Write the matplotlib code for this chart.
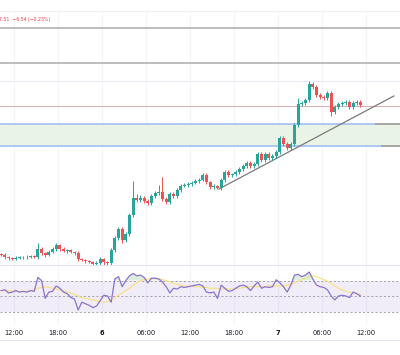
import matplotlib.pyplot as plt
from matplotlib.lines import Line2D

# 30-minute candles, closes (hours are relative to day 6 00:00)
closes = [
    2809.75, 2809.25, 2809.00, 2808.75, 2809.00, 2809.25, 2809.13, 2809.25, 2809.38, 2809.25,
    2811.25, 2810.25, 2809.75, 2810.50, 2811.25, 2812.25, 2811.25, 2810.75, 2811.00, 2810.50,
    2810.25, 2808.75, 2808.50, 2808.25, 2808.00, 2807.50, 2807.75, 2808.75, 2808.00, 2807.75,
    2811.00, 2814.00, 2816.25, 2813.50, 2815.00, 2819.75, 2824.00, 2823.50, 2824.00, 2823.25,
    2822.75, 2824.50, 2825.25, 2825.50, 2823.75, 2823.00, 2825.00, 2824.50, 2826.00, 2827.00,
    2827.25, 2827.50, 2827.75, 2828.25, 2828.50, 2829.75, 2828.00, 2826.75, 2827.00, 2826.50,
    2828.50, 2830.50, 2829.75, 2829.90, 2830.50, 2831.25, 2832.00, 2832.75, 2832.00, 2832.50,
    2835.00, 2833.50, 2835.00, 2834.00, 2834.50, 2835.50, 2839.00, 2837.50, 2836.50, 2837.50,
    2842.25, 2847.50, 2847.75, 2848.50, 2852.50, 2851.75, 2849.75, 2849.25, 2849.00, 2850.25,
    2845.50, 2846.75, 2847.50, 2847.75, 2848.00, 2846.75, 2847.75, 2848.00, 2847.25,
]
first_open = 2810.0
wick_up = [
    0.3, 0.4, 0.3, 0.3, 0.4, 0.3, 0.3, 0.4, 0.3, 0.3,
    1.5, 0.4, 0.3, 0.5, 0.4, 0.5, 0.3, 0.4, 0.3, 0.3,
    0.3, 0.4, 0.3, 0.3, 0.3, 0.3, 0.4, 0.5, 0.3, 0.3,
    0.5, 0.6, 0.5, 0.4, 0.5, 0.6, 4.2, 1.0, 0.8, 0.5,
    0.4, 0.5, 0.6, 1.7, 3.7, 0.4, 0.5, 0.4, 0.5, 0.4,
    0.4, 0.5, 0.4, 0.4, 0.5, 0.5, 0.4, 0.3, 0.4, 0.3,
    0.5, 0.6, 0.4, 0.4, 0.5, 0.4, 0.5, 0.4, 0.4, 0.5,
    0.6, 0.4, 0.5, 0.4, 0.4, 0.5, 0.6, 0.4, 0.4, 0.5,
    0.6, 1.5, 0.5, 0.6, 0.8, 0.5, 0.5, 0.4, 0.5, 0.6,
    0.5, 0.5, 0.5, 0.4, 0.5, 0.4, 0.5, 0.4, 0.4,
]
wick_dn = [
    0.3, 0.4, 0.4, 0.3, 0.3, 0.3, 0.4, 0.3, 0.3, 0.3,
    0.4, 0.4, 0.5, 0.3, 0.3, 0.4, 0.4, 0.3, 0.4, 0.3,
    0.4, 0.4, 0.3, 0.4, 0.3, 0.4, 0.3, 0.4, 0.8, 0.4,
    0.4, 0.5, 0.5, 0.8, 0.5, 0.5, 0.5, 0.6, 0.5, 0.5,
    0.6, 0.5, 0.4, 0.4, 0.6, 0.5, 0.4, 0.5, 0.4, 0.4,
    0.3, 0.4, 0.4, 0.3, 0.4, 0.3, 0.4, 0.5, 0.4, 0.3,
    0.4, 0.4, 0.5, 0.4, 0.4, 0.4, 0.4, 0.4, 0.5, 0.4,
    0.4, 0.5, 0.4, 0.5, 0.4, 0.4, 0.4, 0.5, 0.5, 0.5,
    0.4, 0.5, 0.5, 0.4, 0.4, 0.5, 0.5, 0.4, 0.4, 0.5,
    1.0, 0.5, 0.4, 0.4, 0.4, 0.5, 0.4, 0.4, 0.4,
]
rsi = [
    57, 58, 54, 55, 57, 55, 56, 55, 57, 56,
    74, 70, 47, 55, 56, 63, 60, 55, 53, 48,
    46, 32, 42, 40, 38, 35, 37, 44, 51, 50,
    42, 72, 75, 62, 70, 76, 79, 76, 77, 74,
    67, 73, 73, 72, 68, 62, 54, 60, 59, 62,
    61, 62, 63, 64, 65, 63, 55, 54, 55, 47,
    64, 60, 56, 57, 60, 63, 64, 62, 57, 63,
    68, 60, 62, 61, 62, 71, 67, 62, 55, 64,
    77, 78, 75, 77, 81, 72, 64, 62, 61, 58,
    50, 45, 50, 51, 50, 48, 55, 53, 50,
]
rsi_ma = [
    57, 57, 57, 56, 56, 56, 56, 56, 57, 58,
    60, 61, 62, 61, 60, 59, 58, 57, 55, 54,
    52, 50, 48, 47, 46, 45, 44, 43, 42, 43,
    45, 48, 51, 54, 57, 60, 64, 67, 70, 71,
    72, 73, 73, 72, 71, 70, 68, 66, 65, 64,
    63, 63, 62, 62, 62, 61, 61, 60, 60, 60,
    59, 59, 59, 59, 60, 60, 61, 61, 62, 62,
    62, 62, 62, 63, 63, 63, 63, 63, 64, 65,
    67, 69, 71, 73, 75, 76, 75, 73, 71, 69,
    66, 63, 60, 58, 56, 55, 54, 53, 52,
]

# drawn levels
resistances = [2866.5, 2857.75]
last_level = 2847.0
zone = [2837.0, 2842.5]
zone_ends = [38.2, 37.4]
trend_t = [15.95, 39.8]
trend_p = [2826.25, 2849.5]

tick_hours = [-12, -6, 0, 6, 12, 18, 24, 30, 36]
tick_labels = ['12:00', '18:00', '6', '06:00', '12:00', '18:00', '7', '06:00', '12:00']

up_col = '#26a69a'
dn_col = '#ef5350'
grid_col = '#f3f4f7'

n = len(closes)
times = [-14 + 0.5 * i + 0.25 for i in range(n)]
opens = [first_open] + closes[:-1]
highs = [max(o, c) + w for o, c, w in zip(opens, closes, wick_up)]
lows = [min(o, c) - w for o, c, w in zip(opens, closes, wick_dn)]
colors = [up_col if c >= o else dn_col for o, c in zip(opens, closes)]

fig = plt.figure(figsize=(4.0, 3.55), dpi=100)
ax = fig.add_axes([0, 1 - 265 / 355, 1, 254 / 355])
ax2 = fig.add_axes([0, 1 - 325 / 355, 1, 60 / 355], sharex=ax)

xmin, xmax = -13.91, 40.64
ax.set_xlim(xmin, xmax)
ax.set_ylim(2807.25, 2870.75)

for a in (ax, ax2):
    for t in tick_hours:
        a.axvline(t, color=grid_col, lw=0.8, zorder=0)
    for s in a.spines.values():
        s.set_visible(False)
    a.tick_params(length=0)
    a.set_yticks([])

ax.axhline(2853.25, color='#e9ecf2', lw=0.8, zorder=0)
ax.spines['top'].set_visible(True)
ax.spines['top'].set_color('#eef0f4')
ax.spines['top'].set_linewidth(0.8)

# levels
for lv in resistances:
    ax.axhline(lv, color='#b8b8b8', lw=1.3, zorder=1)
ax.axhline(last_level, color='#d9b3b3', lw=0.8, zorder=1)
ax.axhspan(zone[0], zone[1], color='#eaf4e6', zorder=0.5, lw=0)
for lv, end in zip(zone, zone_ends):
    ax.plot([xmin, end], [lv, lv], color='#a9c4f2', lw=1.3, zorder=1)
    ax.plot([end, xmax], [lv, lv], color='#a0a0a0', lw=1.3, zorder=1)

ax.plot(trend_t, trend_p, color='#7a7a7a', lw=0.9, zorder=2)

# candles
ax.vlines(times, lows, highs, color=colors, lw=0.7, zorder=3)
ax.bar(times, [c - o for o, c in zip(opens, closes)], bottom=opens,
       width=0.4, color=colors, lw=0, zorder=4)

ax.text(-0.002, 0.975, '7.51  \u22126.54 (\u22120.23%)', transform=ax.transAxes,
        color='#f23645', fontsize=3.3, ha='left', va='top')
ax.tick_params(labelbottom=False)

# RSI pane
ax2.set_ylim(12.6, 90)
ax2.axhspan(30, 70, color='#7e57c2', alpha=0.1, lw=0, zorder=0)
for lv in (70, 50, 30):
    ax2.axhline(lv, color='#9598a1', lw=0.6, ls=(0, (2.5, 2.5)), zorder=1)
ax2.fill_between(times, rsi, 70, where=[r > 70 for r in rsi], interpolate=True,
                 color='#4caf50', alpha=0.2, lw=0, zorder=1)
ax2.plot(times, rsi_ma, color='#f7e07c', lw=0.8, zorder=2)
ax2.plot(times, rsi, color='#8c72d0', lw=0.9, zorder=3)
ax2.spines['top'].set_visible(True)
ax2.spines['top'].set_color('#e0e3eb')
ax2.spines['top'].set_linewidth(0.8)

ax2.set_xticks(tick_hours)
ax2.set_xticklabels(tick_labels, fontsize=4.8, color='#131722')
ax2.tick_params(axis='x', pad=3.5)
for lbl, txt in zip(ax2.get_xticklabels(), tick_labels):
    if ':' not in txt:
        lbl.set_fontweight('bold')

fig.add_artist(Line2D([0, 1], [1 - 340 / 355] * 2, color='#e0e3eb', lw=0.8))

fig.savefig('out.png', dpi=100)
